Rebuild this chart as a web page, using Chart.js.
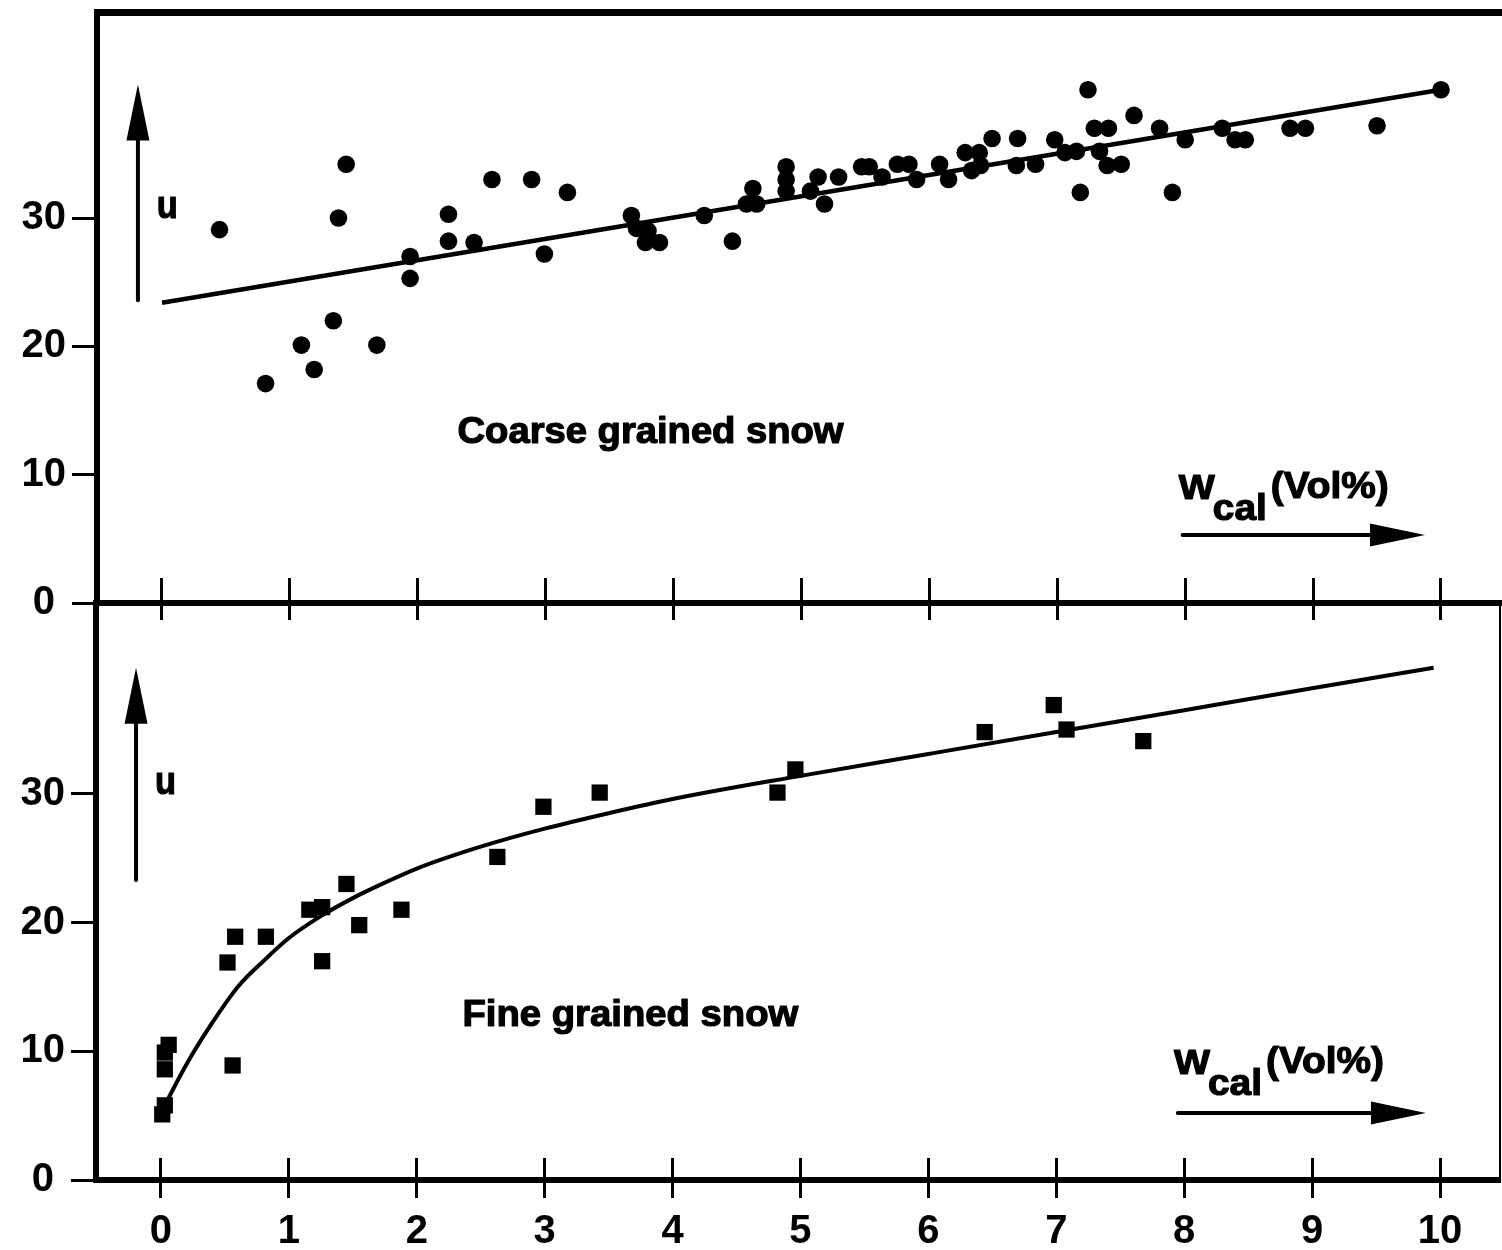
<!DOCTYPE html>
<html>
<head>
<meta charset="utf-8">
<script src="https://cdn.jsdelivr.net/npm/chart.js@4.4.1/dist/chart.umd.min.js"></script>
<style>
  html, body { margin: 0; padding: 0; background: #fff; }
  #wrap { position: relative; width: 1502px; height: 1250px; overflow: hidden; background: #fff; }
  canvas { position: absolute; left: 0; }
  #coarseChart { top: 0; }
  #fineChart { top: 590px; }
</style>
</head>
<body>
<div id="wrap">
  <canvas id="fineChart" width="1502" height="660"></canvas>
  <canvas id="coarseChart" width="1502" height="625"></canvas>
</div>
<script>
// coarse grained snow: measured points (W_cal in Vol%, u)
const coarseW = [0.45, 0.81, 1.09, 1.19, 1.34, 1.38, 1.44, 1.68, 1.94, 1.94,
  2.24, 2.24, 2.44, 2.58, 2.89, 2.99, 3.17, 3.67, 3.71, 3.78,
  3.80, 3.89, 4.24, 4.46, 4.57, 4.62, 4.65, 4.88, 4.88, 4.88,
  5.07, 5.13, 5.18, 5.29, 5.47, 5.53, 5.63, 5.75, 5.84, 5.90,
  6.08, 6.15, 6.28, 6.33, 6.39, 6.40, 6.49, 6.68, 6.69, 6.83,
  6.98, 7.06, 7.15, 7.18, 7.24, 7.29, 7.33, 7.40, 7.39, 7.50,
  7.60, 7.80, 7.90, 8.00, 8.29, 8.39, 8.47, 8.82, 8.94, 9.50, 10.0];
const coarseU = [29.1, 17.1, 20.1, 18.2, 22.0, 30.0, 34.2, 20.1, 27.0, 25.3,
  30.3, 28.2, 28.1, 33.0, 33.0, 27.2, 32.0, 30.2, 29.2, 28.1,
  29.0, 28.1, 30.2, 28.2, 31.1, 32.3, 31.1, 34.0, 33.0, 32.1,
  32.1, 33.2, 31.1, 33.2, 34.0, 34.0, 33.2, 34.2, 34.2, 33.0,
  34.2, 33.0, 35.1, 33.7, 35.1, 34.1, 36.2, 34.1, 36.2, 34.2,
  36.1, 35.1, 35.2, 32.0, 40.0, 37.0, 35.2, 37.0, 34.1, 34.2,
  38.0, 37.0, 32.0, 36.1, 37.0, 36.1, 36.1, 37.0, 37.0, 37.2, 40.0];
const coarseFitW = [0, 10];
const coarseFitU = [23.4, 40.0];

// fine grained snow
const fineW = [0.01, 0.03, 0.03, 0.03, 0.06, 0.52, 0.58, 0.56, 0.82, 1.16,
  1.26, 1.26, 1.45, 1.55, 1.88, 2.63, 2.99, 3.43, 4.82, 4.96,
  6.44, 6.98, 7.08, 7.68];
const fineU = [5.1, 5.8, 8.6, 9.9, 10.5, 16.9, 18.9, 8.9, 18.9, 21.0,
  21.2, 17.0, 23.0, 19.8, 21.0, 25.1, 29.0, 30.1, 30.1, 31.9,
  34.8, 36.9, 35.0, 34.1];
const fineFitW = [0.05, 0.2, 0.4, 0.6, 0.8, 1.0, 1.25, 1.5, 1.75, 2.0,
  2.5, 3.0, 3.5, 4.0, 5.0, 6.0, 7.0, 8.0, 9.0, 9.95];
const fineFitU = [6.2, 9.0, 12.2, 15.0, 17.0, 18.8, 20.5, 21.9, 23.1, 24.2,
  25.9, 27.3, 28.5, 29.6, 31.4, 33.1, 34.8, 36.5, 38.2, 39.8];

const xTicks = [0, 1, 2, 3, 4, 5, 6, 7, 8, 9, 10];
const yTicks = [0, 10, 20, 30];

const FONT = "'Liberation Sans', Arial, Helvetica, sans-serif";
Chart.defaults.font.family = FONT;
Chart.defaults.color = '#000';

const pts = (xs, ys) => xs.map((x, i) => ({ x, y: ys[i] }));
const setTicks = vals => s => { s.ticks = vals.map(v => ({ value: v })); };
const noPad = s => { s.paddingTop = 0; s.paddingBottom = 0; s.paddingLeft = 0; s.paddingRight = 0; };

// bold text squeezed/stretched to a given width, slightly thickened
function fitText(ctx, text, px, py, width, size, align) {
  ctx.font = 'bold ' + size + 'px ' + FONT;
  const w = ctx.measureText(text).width;
  const left = align === 'center' ? px - width / 2 : px;
  ctx.save();
  ctx.translate(left, py);
  ctx.scale(width / w, 1);
  ctx.textAlign = 'left';
  ctx.textBaseline = 'alphabetic';
  ctx.lineWidth = 1.2;
  ctx.lineJoin = 'round';
  ctx.fillText(text, 0, 0);
  ctx.strokeText(text, 0, 0);
  ctx.restore();
}

// arrows and labels inside each panel, placed in data units
function notes(n) {
  return {
    id: 'notes',
    afterDatasetsDraw(chart) {
      const { ctx, scales: { x, y } } = chart;
      ctx.save();
      ctx.fillStyle = '#000';
      ctx.strokeStyle = '#000';
      ctx.lineCap = 'round';

      // vertical u arrow
      const ax = x.getPixelForValue(n.uArrow.x);
      const a0 = y.getPixelForValue(n.uArrow.from);
      const a1 = y.getPixelForValue(n.uArrow.to);
      ctx.lineWidth = 4;
      ctx.beginPath(); ctx.moveTo(ax, a0); ctx.lineTo(ax, a1 + 50); ctx.stroke();
      ctx.beginPath(); ctx.moveTo(ax, a1); ctx.lineTo(ax - 11.5, a1 + 56); ctx.lineTo(ax + 11.5, a1 + 56);
      ctx.closePath(); ctx.fill();

      fitText(ctx, 'u', x.getPixelForValue(n.u.x), y.getPixelForValue(n.u.y), 21, 38);

      fitText(ctx, n.title.text, x.getPixelForValue(n.title.x), y.getPixelForValue(n.title.y),
        n.title.width, n.title.size, 'center');

      // W_cal (Vol%) with horizontal arrow
      const wx = x.getPixelForValue(n.wLabel.x);
      const wy = y.getPixelForValue(n.wLabel.y);
      fitText(ctx, 'W', wx, wy, 36, 35);
      fitText(ctx, 'cal', wx + 34, wy + 21, 54, 36);
      fitText(ctx, '(Vol%)', wx + 92, wy - 1, 118, 36);

      const h0 = x.getPixelForValue(n.wArrow.from);
      const h1 = x.getPixelForValue(n.wArrow.to);
      const hy = y.getPixelForValue(n.wArrow.y);
      ctx.lineWidth = 4;
      ctx.beginPath(); ctx.moveTo(h0, hy); ctx.lineTo(h1 - 50, hy); ctx.stroke();
      ctx.beginPath(); ctx.moveTo(h1, hy); ctx.lineTo(h1 - 55, hy - 11.5); ctx.lineTo(h1 - 55, hy + 11.5);
      ctx.closePath(); ctx.fill();
      ctx.restore();
    }
  };
}

function yAxis(max, width) {
  return {
    type: 'linear', position: 'left', min: 0, max: max,
    afterBuildTicks: setTicks(yTicks),
    afterFit: s => { s.width = width; noPad(s); },
    grid: { drawOnChartArea: false, tickLength: 25, tickWidth: 3, tickColor: '#000' },
    border: { width: 6, color: '#000' },
    ticks: { font: { size: 40, weight: 'bold' }, color: '#000', padding: 6,
      callback: v => (v === 0 ? '0 ' : String(v)) }
  };
}

function xBase(max) {
  return { type: 'linear', min: -0.508, max: max, afterBuildTicks: setTicks(xTicks) };
}

// upper panel: coarse grained snow
new Chart(document.getElementById('coarseChart'), {
  type: 'scatter',
  data: {
    datasets: [
      { data: pts(coarseW, coarseU), pointStyle: 'circle', pointRadius: 8.8,
        backgroundColor: '#000', borderColor: '#000', borderWidth: 0, clip: false },
      { data: pts(coarseFitW, coarseFitU), showLine: true, pointRadius: 0,
        borderColor: '#000', borderWidth: 4.5 }
    ]
  },
  options: {
    responsive: false, animation: false, devicePixelRatio: 1,
    layout: { autoPadding: false, padding: { top: 12, left: 0, right: 0, bottom: 0 } },
    plugins: { legend: { display: false }, tooltip: { enabled: false } },
    scales: {
      x: Object.assign(xBase(10.477), {
        position: 'bottom',
        afterFit: s => { s.height = 22; noPad(s); },
        grid: { drawOnChartArea: false, tickLength: 17, tickWidth: 3, tickColor: '#000' },
        border: { width: 6, color: '#000' },
        ticks: { display: false }
      }),
      xin: Object.assign(xBase(10.477), {
        position: { y: 0 },
        grid: { drawOnChartArea: false, tickLength: -25, tickWidth: 3, tickColor: '#000' },
        border: { display: false },
        ticks: { display: false }
      }),
      xtop: Object.assign(xBase(10.477), {
        position: 'top',
        afterFit: s => { s.height = 0; noPad(s); },
        grid: { display: false },
        border: { width: 7, color: '#000' },
        ticks: { display: false }
      }),
      y: yAxis(46.06, 97)
    }
  },
  plugins: [notes({
    uArrow: { x: -0.188, from: 23.6, to: 40.4 },
    u: { x: -0.04, y: 30.0 },
    title: { text: 'Coarse grained snow', x: 3.82, y: 12.5, width: 386, size: 36 },
    wLabel: { x: 7.95, y: 8.1 },
    wArrow: { from: 7.98, to: 9.875, y: 5.3 }
  })]
});

// lower panel: fine grained snow
new Chart(document.getElementById('fineChart'), {
  type: 'scatter',
  data: {
    datasets: [
      { data: pts(fineW, fineU), pointStyle: 'rect', pointRadius: 11.5,
        backgroundColor: '#000', borderColor: '#000', borderWidth: 0, clip: false },
      { data: pts(fineFitW, fineFitU), showLine: true, pointRadius: 0,
        borderColor: '#000', borderWidth: 4, cubicInterpolationMode: 'monotone' }
    ]
  },
  options: {
    responsive: false, animation: false, devicePixelRatio: 1,
    layout: { autoPadding: false, padding: { top: 13, left: 0, right: 2, bottom: 0 } },
    plugins: { legend: { display: false }, tooltip: { enabled: false } },
    scales: {
      x: Object.assign(xBase(10.469), {
        position: 'bottom',
        afterFit: s => { s.height = 70; noPad(s); },
        grid: { drawOnChartArea: false, tickLength: 18, tickWidth: 3, tickColor: '#000' },
        border: { width: 6, color: '#000' },
        ticks: { font: { size: 40, weight: 'bold' }, color: '#000', padding: 10,
          autoSkip: false, maxRotation: 0 }
      }),
      xin: Object.assign(xBase(10.469), {
        position: { y: 0 },
        grid: { drawOnChartArea: false, tickLength: -22, tickWidth: 3, tickColor: '#000' },
        border: { display: false },
        ticks: { display: false }
      }),
      y: yAxis(44.83, 96),
      yr: {
        type: 'linear', position: 'right', min: 0, max: 44.83,
        afterFit: s => { s.width = 0; noPad(s); },
        grid: { display: false },
        border: { width: 2, color: '#000' },
        ticks: { display: false }
      }
    }
  },
  plugins: [notes({
    uArrow: { x: -0.195, from: 23.3, to: 39.8 },
    u: { x: -0.047, y: 30.0 },
    title: { text: 'Fine grained snow', x: 3.67, y: 12.0, width: 336, size: 37 },
    wLabel: { x: 7.92, y: 8.2 },
    wArrow: { from: 7.95, to: 9.89, y: 5.2 }
  })]
});
</script>
</body>
</html>
